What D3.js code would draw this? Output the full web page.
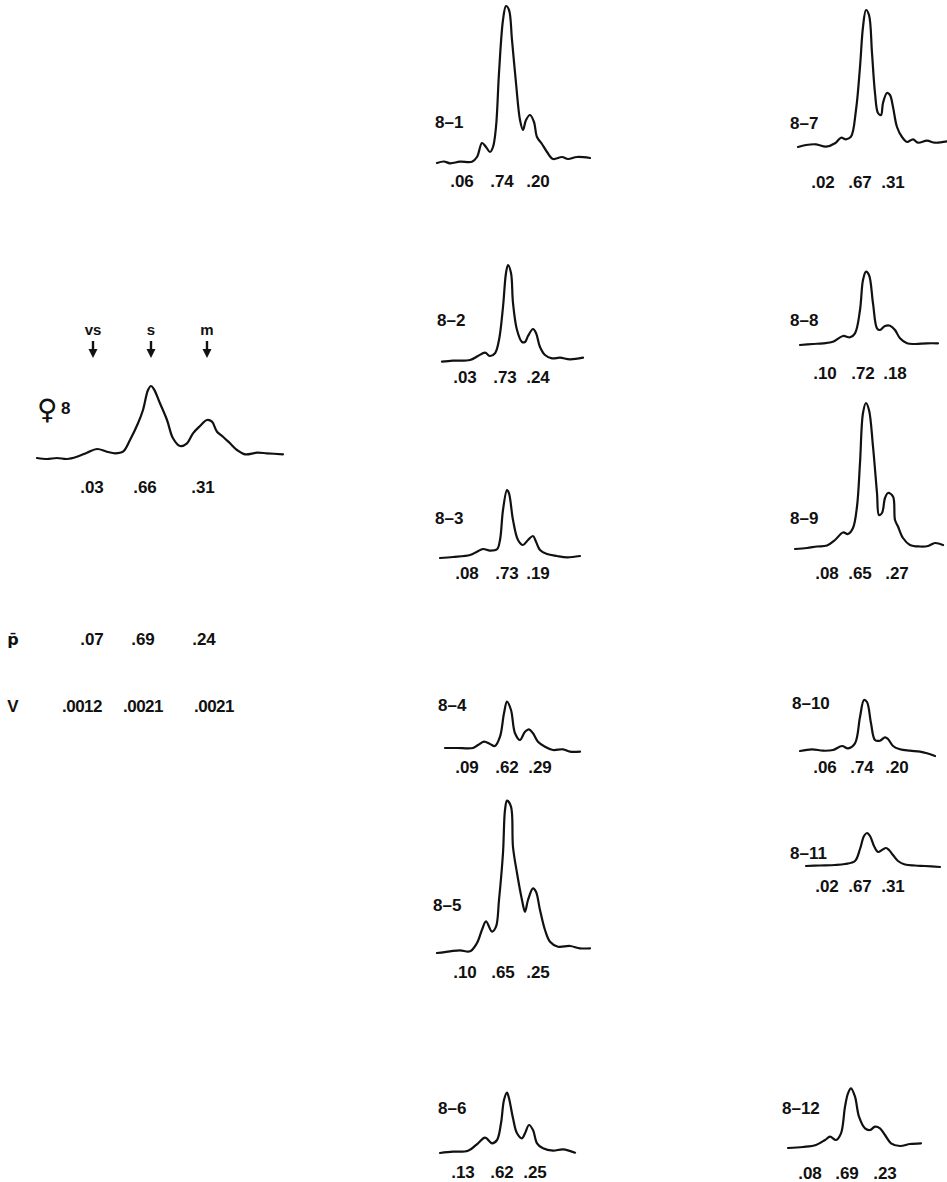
<!DOCTYPE html>
<html>
<head>
<meta charset="utf-8">
<script src="https://cdn.jsdelivr.net/npm/d3@7"></script>
<style>
  body { margin: 0; background: #fff; }
  svg { display: block; }
  text { font-family: "Liberation Sans", Arial, sans-serif; font-weight: bold; fill: #111; }
</style>
</head>
<body>
<div id="chart"></div>
<script>
// Band names and positions along the female 8 scan (scan units)
const bands = ["vs", "s", "m"];
const bandPos = [56, 114, 170];
const mainFractions = [".03", ".66", ".31"];
const meanP = [".07", ".69", ".24"];
const varV = [".0012", ".0021", ".0021"];

const sampleNames = ["8-1", "8-2", "8-3", "8-4", "8-5", "8-6",
                     "8-7", "8-8", "8-9", "8-10", "8-11", "8-12"];
const sampleFractions = [
  [".06", ".74", ".20"], [".03", ".73", ".24"], [".08", ".73", ".19"],
  [".09", ".62", ".29"], [".10", ".65", ".25"], [".13", ".62", ".25"],
  [".02", ".67", ".31"], [".10", ".72", ".18"], [".08", ".65", ".27"],
  [".06", ".74", ".20"], [".02", ".67", ".31"], [".08", ".69", ".23"]
];

// densitometer scans: [position, density]
const scan8 = [[0,0],[10,-1],[20,0],[30,-1],[40,1.3],[50,5.3],[60,9],[70,6.3],[78,4.7],[86,6.3],[93,18],[101,34.7],[106,48],[111,68],[114,72],[117,68.7],[123,54.7],[130,38],[136,19.7],[143,12],[150,14.7],[156,24.7],[163,32],[170,38],[175,36.3],[180,26.3],[186,21.3],[193,14.7],[200,8],[208,3.7],[220,5.3],[230,4.7],[246,3.7]];
const scan8_1 = [[0,0],[7,1.5],[13,-0.3],[23,1.3],[35,1.3],[40,6],[45,20],[49,16],[53,11],[56,16],[59,36],[62,90],[66,143],[69,157],[72,153],[75,123],[79,80],[83,43],[86,33],[89,43],[93,48],[97,41],[100,26],[105,19],[110,11],[116,4],[125,6],[131,4],[140,6],[153,5]];
const scan8_2 = [[0,0.3],[11,1.3],[28,2],[36,6],[43,9.3],[48,6],[53,8.7],[57,22],[61,55],[64,89],[66,97],[69,89],[71,59],[75,32],[80,20],[83,20],[86,26],[91,33],[94,29],[98,15],[103,7],[110,3.7],[118,4.3],[128,2.7],[141,4.3]];
const scan8_3 = [[0,0],[13,1],[30,3],[37,6.3],[43,9],[50,7.3],[57,8.7],[60,18],[63,48],[67,68],[69,64.7],[73,38],[78,18],[83,13],[88,18],[93,22],[96,16.3],[100,8],[107,4],[117,2],[127,0.7],[140,2]];
const scan8_4 = [[0,0],[12,0],[28,0],[33,3],[39,6.3],[45,4],[50,2],[55,11.3],[59,34.7],[62,46.3],[66,38],[70,14.7],[75,8],[80,16.3],[84,18.7],[88,14.7],[93,6.3],[100,1.3],[108,-2],[118,-1.3],[125,-3.7],[135,-3.7]];
const scan8_5 = [[0,0],[13,1.7],[23,2.7],[33,1.7],[40,10],[45,23.3],[49,31.7],[55,21.3],[59,26.3],[62,53],[66,100],[68,143],[70,152.3],[74,146.3],[76,106],[80,80],[85,53],[88,41.3],[91,53],[96,64.7],[99,61.3],[103,43],[108,23],[113,11.3],[121,6.3],[133,7],[143,4.7],[153,4.7]];
const scan8_6 = [[0,0],[13,1.3],[28,2.3],[38,9.7],[45,15.3],[52,9.7],[57,13],[61,29.7],[64,53],[67,60.3],[69,54.7],[73,34.7],[77,19.7],[82,14.7],[85,19.7],[89,28],[93,23],[97,9.7],[103,4.7],[113,2.3],[123,3.7],[135,0.3]];
const scan8_7 = [[0,0],[8,2],[18,2.7],[28,0.3],[37,3.7],[43,9.3],[48,7.7],[53,10.3],[58,37],[62,80],[65,120],[68,137],[71,132],[74,94],[77,54],[80,34],[83,32],[85,44],[89,54],[92,52],[95,40],[99,20],[104,10],[109,5],[115,7.7],[120,4.3],[129,6.3],[137,4.3],[149,5.7]];
const scan8_8 = [[0,0],[13,1],[23,1.7],[33,3.3],[43,9],[50,7.7],[55,11.7],[60,35],[63,65],[66,73.3],[69,70],[73,41.7],[77,16.7],[80,15],[85,19],[90,19.3],[95,15],[100,6.7],[107,1.7],[115,1],[127,1.7],[138,1.7]];
const scan8_9 = [[0,0],[12,1],[22,2.5],[32,3.5],[40,9],[48,16.5],[53,15],[58,21],[62,42.5],[65,86],[68,136],[71,146],[74,139],[78,102.5],[82,56],[84,34],[87,36],[90,51],[93,56],[98,52.5],[100,29],[103,22.5],[108,11],[115,4],[125,2.5],[133,3],[140,6],[148,4]];
const scan8_10 = [[0,0],[12,1.7],[23,0.3],[33,1],[42,5],[48,2.7],[55,7.7],[60,34],[64,51],[67,49],[71,27.7],[75,11],[80,10.3],[85,13.7],[88,12],[93,5],[100,1.7],[110,0.3],[120,-0.7],[127,-2.3],[135,-5]];
const scan8_11 = [[0,0],[14,0.5],[29,1],[39,2],[49,5],[54,17],[58,30],[61,33],[64,30],[68,20],[72,14],[76,16],[80,18],[83,16],[87,11],[92,5],[99,1.5],[109,0.5],[119,0],[134,-1]];
const scan8_12 = [[0,0],[15,1],[28,3],[37,8],[42,11.3],[48,8],[53,14.7],[57,41.3],[60,54.7],[63,59.7],[67,51.3],[71,31.3],[77,19.7],[82,18],[87,21.3],[92,19.7],[97,13],[103,4.7],[112,2],[122,4],[133,4.7]];
const sampleScans = [scan8_1, scan8_2, scan8_3, scan8_4, scan8_5, scan8_6,
                     scan8_7, scan8_8, scan8_9, scan8_10, scan8_11, scan8_12];

// where each small scan sits on the page
const panels = [
  { left: 437, base: 163, labelX: 435, labelY: 128, numDx: [25, 65, 101], numY: 187 },
  { left: 442, base: 362, labelX: 437, labelY: 326, numDx: [23, 63, 96],  numY: 383 },
  { left: 440, base: 558, labelX: 435, labelY: 524, numDx: [27, 67, 98],  numY: 579 },
  { left: 445, base: 748, labelX: 438, labelY: 711, numDx: [22, 62, 95],  numY: 773 },
  { left: 437, base: 953, labelX: 433, labelY: 911, numDx: [28, 66, 101], numY: 978 },
  { left: 440, base: 1153, labelX: 438, labelY: 1114, numDx: [23, 62, 95], numY: 1178 },
  { left: 798, base: 147, labelX: 790, labelY: 129, numDx: [25, 62, 95],  numY: 188 },
  { left: 800, base: 345, labelX: 790, labelY: 326, numDx: [25, 63, 95],  numY: 379 },
  { left: 795, base: 549, labelX: 790, labelY: 524, numDx: [32, 65, 102], numY: 579 },
  { left: 800, base: 751, labelX: 792, labelY: 709, numDx: [25, 62, 97],  numY: 773 },
  { left: 806, base: 866, labelX: 790, labelY: 859, numDx: [21, 54, 87],  numY: 892 },
  { left: 788, base: 1148, labelX: 782, labelY: 1114, numDx: [22, 59, 97], numY: 1179 }
];

const W = 947, H = 1182;
const svg = d3.select("#chart").append("svg")
  .attr("width", W).attr("height", H);

const line = d3.line().curve(d3.curveCatmullRom.alpha(0.5));

function drawScan(g, data, x, y) {
  g.append("path")
    .datum(data)
    .attr("fill", "none")
    .attr("stroke", "#111")
    .attr("stroke-width", 2.2)
    .attr("stroke-linejoin", "round")
    .attr("stroke-linecap", "round")
    .attr("d", line.x(d => x(d[0])).y(d => y(d[1])));
}

// main scan, female 8
const xm = d3.scaleLinear().domain([0, 246]).range([37, 283]);
const ym = d3.scaleLinear().domain([0, 100]).range([458, 358]);
const main = svg.append("g");
drawScan(main, scan8, xm, ym);

main.selectAll(".band").data(bands).enter().append("text")
  .attr("x", (d, i) => xm(bandPos[i]))
  .attr("y", 335)
  .attr("text-anchor", "middle")
  .style("font-size", "15px")
  .text(d => d);

const arrows = main.selectAll(".arrow").data(bandPos).enter().append("g");
arrows.append("line")
  .attr("x1", d => xm(d)).attr("x2", d => xm(d))
  .attr("y1", 341).attr("y2", 352)
  .attr("stroke", "#111").attr("stroke-width", 2.4);
arrows.append("path")
  .attr("d", d => `M${xm(d) - 4.5},349 L${xm(d) + 4.5},349 L${xm(d)},358 Z`)
  .attr("fill", "#111");

main.append("text").attr("x", 37).attr("y", 419)
  .style("font-family", "DejaVu Sans").style("font-size", "28px")
  .text("\u2640");
main.append("text").attr("x", 61).attr("y", 414)
  .style("font-size", "17px").text("8");

main.selectAll(".frac").data(mainFractions).enter().append("text")
  .attr("x", (d, i) => xm([55, 108, 166][i]))
  .attr("y", 493)
  .attr("text-anchor", "middle")
  .style("font-size", "17px")
  .text(d => d);

// mean proportions and variances
svg.append("text").attr("x", 13).attr("y", 645)
  .attr("text-anchor", "middle")
  .style("font-family", "DejaVu Sans").style("font-size", "16px")
  .text("p\u0304");
svg.selectAll(".mean").data(meanP).enter().append("text")
  .attr("x", (d, i) => [92, 143, 204][i]).attr("y", 645)
  .attr("text-anchor", "middle").style("font-size", "17px")
  .text(d => d);
svg.append("text").attr("x", 13).attr("y", 712)
  .attr("text-anchor", "middle").style("font-size", "17px").text("V");
svg.selectAll(".var").data(varV).enter().append("text")
  .attr("x", (d, i) => [82, 143, 214][i]).attr("y", 712)
  .attr("text-anchor", "middle").style("font-size", "17px")
  .style("letter-spacing", "-0.5px")
  .text(d => d);

// twelve individual scans
sampleScans.forEach((scan, i) => {
  const p = panels[i];
  const x = d3.scaleLinear().domain([0, 153]).range([p.left, p.left + 153]);
  const y = d3.scaleLinear().domain([0, 100]).range([p.base, p.base - 100]);
  const g = svg.append("g");
  drawScan(g, scan, x, y);
  g.append("text")
    .attr("x", p.labelX).attr("y", p.labelY)
    .style("font-size", "17px")
    .text(sampleNames[i].replace("-", "\u2013"));
  g.selectAll(".frac").data(sampleFractions[i]).enter().append("text")
    .attr("x", (d, j) => x(p.numDx[j]))
    .attr("y", p.numY)
    .attr("text-anchor", "middle")
    .style("font-size", "17px")
    .text(d => d);
});
</script>
</body>
</html>
